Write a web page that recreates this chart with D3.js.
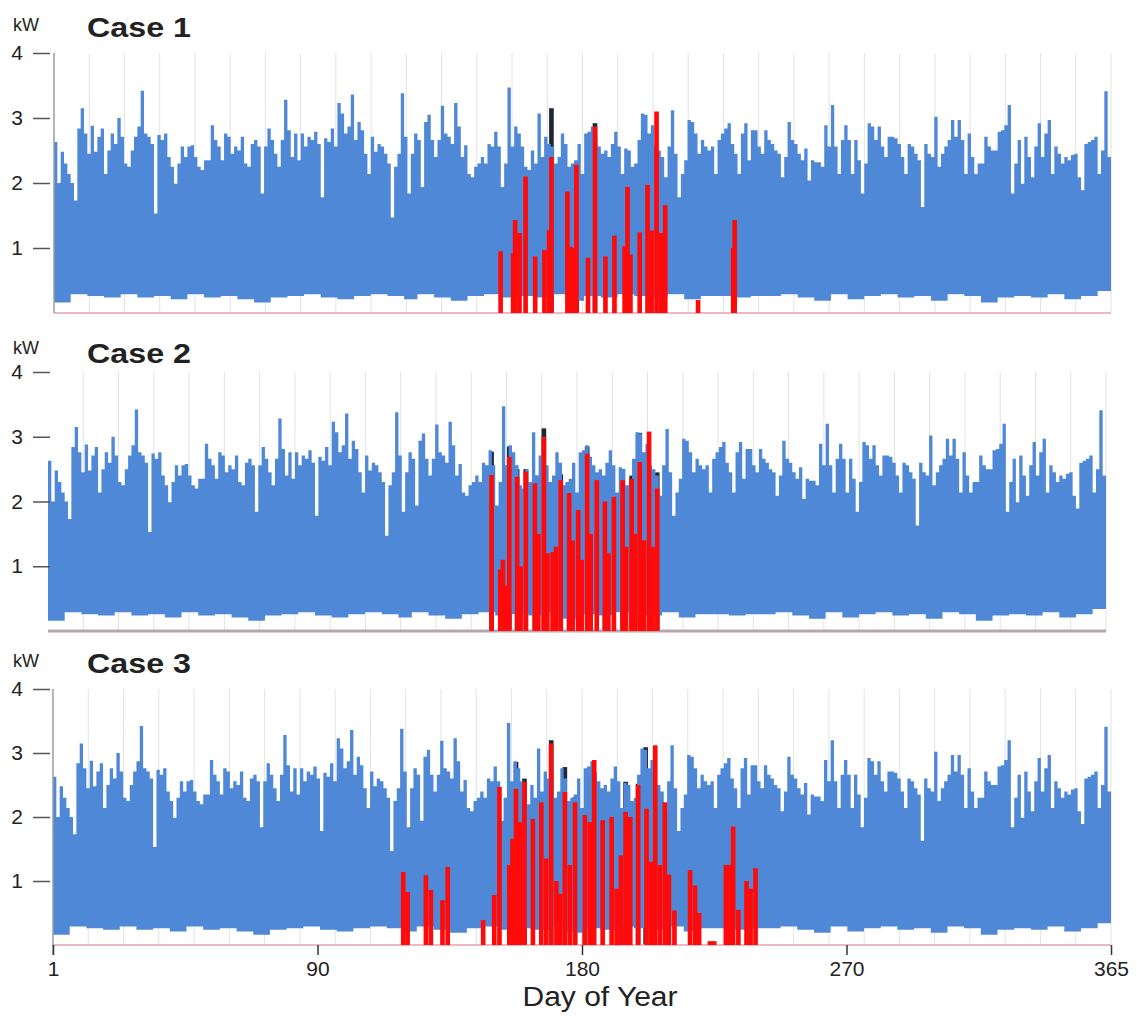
<!DOCTYPE html>
<html>
<head>
<meta charset="utf-8">
<script src="https://cdn.jsdelivr.net/npm/d3@7"></script>
<style>
  body { margin: 0; background: #fff; }
  text { font-family: "Liberation Sans", Arial, sans-serif; fill: #222; }
</style>
</head>
<body>
<div id="chart"></div>
<script>
// Household load envelope (kW), same in every case, read left to right across the year
const housePeak = [
  2.63, 2.0, 2.48, 2.3, 2.14, 2.0, 1.73, 2.84, 3.15, 2.76, 2.45, 2.88, 2.48, 2.71, 2.84, 2.14, 2.5, 2.76, 2.6, 3.0,
  2.71, 2.3, 2.25, 2.5, 2.71, 2.87, 3.42, 2.76, 2.71, 2.6, 1.53, 2.74, 2.66, 2.76, 2.4, 2.25, 1.99, 2.3, 2.56, 2.4,
  2.56, 2.58, 2.4, 2.25, 2.2, 2.35, 2.35, 2.89, 2.66, 2.56, 2.35, 2.76, 2.71, 2.45, 2.56, 2.5, 2.71, 2.3, 2.25, 2.6,
  2.66, 2.56, 1.84, 2.56, 2.84, 2.66, 2.45, 2.25, 2.66, 3.28, 2.81, 2.4, 2.76, 2.35, 2.76, 2.56, 2.71, 2.66, 2.79, 2.6,
  1.78, 2.69, 2.63, 2.84, 2.56, 3.23, 3.07, 2.76, 2.87, 3.36, 2.66, 2.94, 2.81, 2.45, 2.14, 2.71, 2.48,
  2.6, 2.56, 2.45, 2.3, 1.47, 2.25, 2.45, 3.38, 2.71, 1.84, 2.45, 2.76, 2.66, 1.94, 2.94, 3.05, 2.66, 2.4, 2.66, 3.19,
  2.76, 2.71, 2.6, 3.23, 2.87, 2.4, 2.58, 2.14, 2.09, 2.25, 2.3, 2.4, 2.3, 2.6, 2.56, 2.79, 2.56, 1.94, 2.3, 3.47,
  2.56, 2.87, 2.76, 2.56, 2.25, 2.2, 2.5, 2.3, 3.07, 2.4, 2.71, 2.6, 2.56, 2.3, 2.4, 2.76, 2.6, 2.25, 2.3, 2.35,
  2.6, 2.14, 2.76, 2.79, 2.87, 2.69, 2.56, 2.45, 2.5, 2.4, 2.6, 2.79, 2.56, 2.14, 2.53, 2.5, 2.25, 2.3, 2.66, 3.07,
  3.05, 2.76, 2.89, 2.56, 2.5, 2.4, 2.09, 2.56, 3.12, 2.45, 1.78, 2.14, 2.35, 2.97, 2.94, 2.76, 2.45, 2.66, 2.56, 2.5,
  2.56, 2.14, 2.66, 2.76, 2.84, 2.92, 2.6, 2.45, 2.14, 2.76, 2.92, 2.35, 2.81,
  2.81, 2.56, 2.45, 2.81, 2.66, 2.6, 2.5, 2.45, 2.09, 2.4, 2.94, 2.66, 2.6, 2.45, 2.35, 2.53, 2.04, 2.35, 2.32, 2.32,
  2.25, 2.89, 2.56, 3.2, 2.56, 2.14, 2.66, 2.89, 2.66, 2.14, 2.66, 2.35, 1.84, 2.3, 2.92, 2.87, 2.66, 2.87, 2.56, 2.4,
  2.71, 2.71, 2.69, 2.6, 2.4, 2.14, 2.6, 2.56, 2.45, 2.35, 1.63, 2.6, 2.45, 2.4, 3.02, 2.25, 2.45, 2.56, 2.66, 2.97,
  2.71, 2.97, 2.66, 2.14, 2.76, 2.4, 2.14, 2.3, 2.3, 2.71, 2.56, 2.5, 2.5, 2.79, 2.81, 2.89, 3.2, 1.84, 2.3, 2.66,
  1.99, 2.71, 2.4, 2.09, 2.56, 2.92, 2.4, 2.76, 2.97, 2.14, 2.56, 2.45, 2.3, 2.4, 2.35, 2.43, 2.45, 2.09, 1.89, 2.6,
  2.63, 2.66, 2.71, 2.14, 2.5, 3.41, 2.4
];
const houseLow = [
  0.16, 0.29, 0.26, 0.24, 0.29, 0.24, 0.26, 0.21, 0.29, 0.24, 0.26, 0.21, 0.16, 0.24, 0.26, 0.29, 0.24, 0.21, 0.26, 0.29,
  0.26, 0.21, 0.29, 0.24, 0.19, 0.26, 0.29, 0.24, 0.26, 0.24, 0.29, 0.19, 0.26, 0.24, 0.29, 0.26, 0.24, 0.29, 0.21, 0.26,
  0.26, 0.24, 0.26, 0.26, 0.29, 0.24, 0.19, 0.29, 0.21, 0.26, 0.29, 0.24, 0.26, 0.19, 0.29, 0.26, 0.16, 0.24, 0.26, 0.24,
  0.29, 0.21, 0.26, 0.34
];

// EV charging (red): day of year and kW
const case1EvDay = [154.8, 159.1, 159.8, 161.3, 163.4, 166.7, 169.9, 171.5, 172.3, 177.8, 178.9, 179.8, 180.9, 184.9, 187.3,
  190.9, 194, 197.5, 198.5, 199.5, 202.7, 205.4, 206.8, 208.5, 210.1, 211.5, 222.8, 234.9, 235.4];
const case1EvKw = [0.95, 0.92, 1.43, 1.23, 2.1, 0.87, 0.97, 1.27, 2.4, 1.87, 1.02, 1.0, 2.28, 0.85, 2.87,
  0.87, 1.19, 1.03, 1.94, 0.9, 1.24, 1.97, 1.27, 3.1, 1.23, 1.66, 0.2, 1.0, 1.43];

const case2EvDay = [153.6, 156.6, 157.5, 158.3, 159.7, 162.4, 163.6, 165.4, 168.5, 169.7, 171.6, 172.8, 174.6, 175.8, 177.4,
  180.3, 181.5, 183.4, 184.6, 186.5, 187.7, 189.8, 192.6, 193.8, 195.7, 198.7, 199.9, 201.8, 203, 204.6, 206.1, 207.8, 209, 210.6];
const case2EvKw = [2.41, 0.95, 1.1, 0.7, 2.69, 2.38, 1.0, 2.46, 2.28, 1.5, 3.0, 1.2, 1.22, 1.3, 2.33,
  2.13, 1.4, 1.87, 1.1, 2.74, 1.5, 2.33, 2.0, 1.2, 2.07, 2.33, 1.3, 2.35, 1.5, 2.61, 1.4, 3.08, 1.3, 2.2];

const case3EvDay = [121.5, 123, 129.3, 131, 135, 136.8, 149, 152.8, 154.6, 158, 159.1, 160.3, 161.6, 163.2, 166.1,
  169, 170.7, 172.4, 174.2, 175.5, 177.1, 178.8, 180.6, 184, 185.7, 187.2, 190.1, 193.2, 194.9, 196.4,
  198, 199.6, 202.3, 205.2, 206.7, 208.2, 209.8, 211.5, 212.9, 214.8, 220.2, 221.9, 223.3, 227, 228.5,
  232.5, 233.6, 235, 236.8, 239.6, 241, 242.7];
const case3EvKw = [1.14, 0.83, 1.09, 0.86, 0.7, 1.22, 0.39, 0.78, 2.47, 1.25, 1.66, 2.44, 1.92, 2.55, 1.97,
  2.23, 1.35, 3.15, 1.0, 0.8, 2.39, 1.25, 2.23, 2.03, 1.92, 2.89, 1.95, 2.0, 0.88, 1.4,
  2.08, 2.0, 2.5, 2.13, 1.3, 3.12, 1.25, 2.23, 1.1, 0.54, 1.17, 0.93, 0.5, 0.06, 0.06,
  1.25, 1.25, 1.85, 0.55, 1.0, 0.88, 1.2];

// total load where it rises above the household envelope (dark caps)
const case1TotalDay = [172.3, 181, 187.3];
const case1TotalKw = [3.15, 2.32, 2.92];
const case2TotalDay = [153.6, 159.7, 162.4, 165.4, 168.5, 171.6, 177.4, 180.3, 183.4, 186.5, 192.6, 198.7, 201.8, 204.6, 210.6];
const case2TotalKw = [2.77, 2.85, 2.5, 2.5, 2.4, 3.13, 2.42, 2.3, 2.0, 2.85, 2.17, 2.5, 2.4, 3.06, 2.45];
const case3TotalDay = [160.3, 163.2, 172.4, 177.1, 180.6, 184, 198, 202.3, 204.9];
const case3TotalKw = [2.86, 2.6, 3.2, 2.78, 2.31, 2.05, 2.55, 2.52, 3.09];

const caseNames = ["Case 1", "Case 2", "Case 3"];
const yTicks = [1, 2, 3, 4];
const dayLabels = ["1", "90", "180", "270", "365"];

const svg = d3.select("#chart")
  .append("svg")
  .attr("width", 1137)
  .attr("height", 1016);

const panels = [
  { left: 54, right: 1111, top: 53, bottom: 313, kwY: 31, titleY: 37, axisLine: true, base: "#eab9c3", baseW: 2,
    evDay: case1EvDay, evKw: case1EvKw, totDay: case1TotalDay, totKw: case1TotalKw },
  { left: 48, right: 1106, top: 372, bottom: 631, kwY: 354, titleY: 363, axisLine: false, base: "#b9a5ad", baseW: 3,
    evDay: case2EvDay, evKw: case2EvKw, totDay: case2TotalDay, totKw: case2TotalKw },
  { left: 53, right: 1111, top: 689, bottom: 945, kwY: 667, titleY: 673, axisLine: true, base: "#eab9c3", baseW: 2,
    evDay: case3EvDay, evKw: case3EvKw, totDay: case3TotalDay, totKw: case3TotalKw }
];

panels.forEach((p, k) => {
  const g = svg.append("g");
  const x = d3.scaleLinear().domain([1, 365]).range([p.left, p.right]);
  const y = d3.scaleLinear().domain([0, 4]).range([p.bottom, p.top]);
  const grid = d3.scaleLinear().domain([0, 30]).range([p.left, p.right]);
  const half = 0.8; // half width of one charging bar, in days

  // light vertical grid
  g.append("g")
    .selectAll("line")
    .data(d3.range(1, 31))
    .join("line")
    .attr("x1", d => grid(d))
    .attr("x2", d => grid(d))
    .attr("y1", y(4))
    .attr("y2", y(0))
    .attr("stroke", "#e3e3e3")
    .attr("stroke-width", 1);

  // dark total-load bars sit behind the household area
  g.append("g")
    .selectAll("rect")
    .data(p.totDay.map((d, i) => ({ day: d, kw: p.totKw[i] })))
    .join("rect")
    .attr("x", d => x(d.day - half))
    .attr("width", d => x(d.day + half) - x(d.day - half))
    .attr("y", d => y(d.kw))
    .attr("height", d => y(0) - y(d.kw))
    .attr("fill", "#1e2736");

  // household load band
  const n = housePeak.length;
  const pts = housePeak.map((v, i) => ({
    day: 1 + (i * 364) / n,
    hi: v,
    lo: houseLow[Math.floor((i * houseLow.length) / n)]
  }));
  pts.push({ day: 365, hi: housePeak[n - 1], lo: houseLow[houseLow.length - 1] });

  g.append("path")
    .datum(pts)
    .attr("d", d3.area()
      .curve(d3.curveStepAfter)
      .x(d => x(d.day))
      .y0(d => y(d.lo))
      .y1(d => y(d.hi)))
    .attr("fill", "#4f88d6");

  // baseline at zero
  g.append("line")
    .attr("x1", x(1))
    .attr("x2", x(365))
    .attr("y1", y(0))
    .attr("y2", y(0))
    .attr("stroke", p.base)
    .attr("stroke-width", p.baseW);

  // EV charging spikes
  g.append("g")
    .selectAll("rect")
    .data(p.evDay.map((d, i) => ({ day: d, kw: p.evKw[i] })))
    .join("rect")
    .attr("x", d => x(d.day - half))
    .attr("width", d => x(d.day + half) - x(d.day - half))
    .attr("y", d => y(d.kw))
    .attr("height", d => y(0) - y(d.kw))
    .attr("fill", "#ff0a0a");

  if (p.axisLine) {
    g.append("line")
      .attr("x1", p.left)
      .attr("x2", p.left)
      .attr("y1", y(4))
      .attr("y2", k === 2 ? y(0) + 10 : y(0))
      .attr("stroke", "#9c9c9c")
      .attr("stroke-width", 1.5);
  }

  // y axis: separated dash ticks
  const yAxis = g.append("g")
    .attr("transform", "translate(50,0)")
    .call(d3.axisLeft(y).tickValues(yTicks).tickSize(17).tickPadding(10).tickFormat(d3.format("d")));
  yAxis.select(".domain").remove();
  yAxis.selectAll(".tick line").attr("stroke", "#555").attr("stroke-width", 1.5);
  yAxis.selectAll(".tick text")
    .style("font-family", "'Liberation Sans', Arial, sans-serif")
    .style("font-size", "21px")
    .attr("fill", "#222");

  g.append("text")
    .attr("x", 13)
    .attr("y", p.kwY)
    .style("font-size", "18px")
    .text("kW");

  g.append("text")
    .attr("x", 87)
    .attr("y", p.titleY)
    .style("font-family", "'Liberation Sans', Arial, sans-serif")
    .style("font-weight", "bold")
    .style("font-size", "28px")
    .attr("textLength", 104)
    .attr("lengthAdjust", "spacingAndGlyphs")
    .attr("fill", "#111")
    .text(caseNames[k]);

  if (k === 2) {
    const xTick = d3.scalePoint().domain(dayLabels).range([p.left, p.right]);
    const xAxis = g.append("g")
      .attr("transform", `translate(0,${y(0)})`)
      .call(d3.axisBottom(xTick).tickSize(10).tickPadding(6));
    xAxis.select(".domain").remove();
    xAxis.selectAll(".tick line").attr("stroke", "#333").attr("stroke-width", 1.5);
    xAxis.selectAll(".tick text")
      .style("font-family", "'Liberation Sans', Arial, sans-serif")
      .style("font-size", "21px")
      .attr("fill", "#222");

    g.append("text")
      .attr("x", 600)
      .attr("y", 1006)
      .attr("text-anchor", "middle")
      .style("font-size", "27px")
      .attr("textLength", 155)
      .attr("lengthAdjust", "spacingAndGlyphs")
      .text("Day of Year");
  }
});
</script>
</body>
</html>
